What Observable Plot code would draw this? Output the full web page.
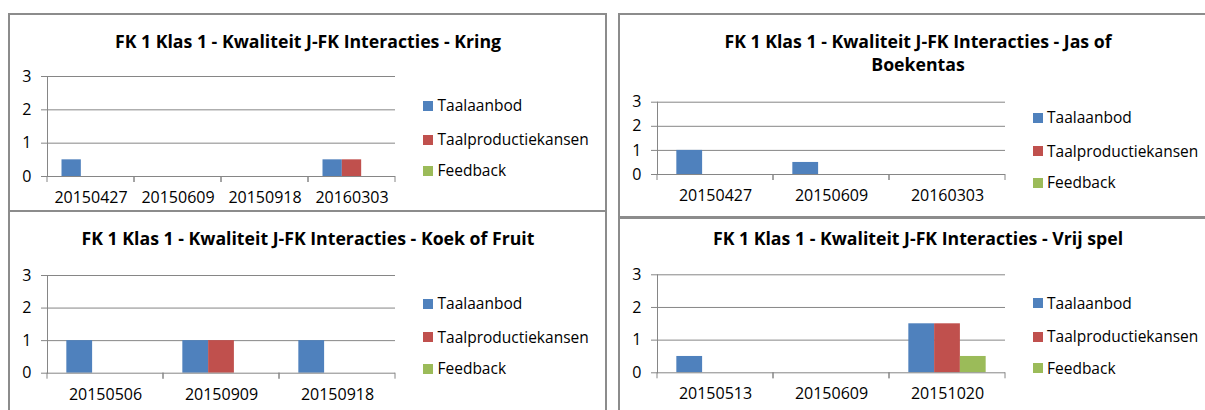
<!DOCTYPE html>
<html>
<head>
<meta charset="utf-8">
<script src="https://cdn.jsdelivr.net/npm/d3@7"></script>
<script src="https://cdn.jsdelivr.net/npm/@observablehq/plot@0.6"></script>
<style>
  body { margin: 0; background: #fff; }
  #page { position: relative; width: 1205px; height: 410px; overflow: hidden; font-family: "Open Sans", sans-serif; color: #000; }
  .box { position: absolute; border: 2px solid #8c8c8c; box-sizing: border-box; }
  .title { position: absolute; text-align: center; font-weight: 700; white-space: nowrap; color: #000; }
  .leg-sq { position: absolute; width: 10px; height: 10px; }
  .leg-tx { position: absolute; white-space: nowrap; color: #000; }
  .chartwrap { position: absolute; left: 0; top: 0; width: 1205px; height: 410px; }
  .chartwrap svg text { fill: #000; }
</style>
</head>
<body>
<div id="page"></div>
<script>
// ---------- data ----------
const series = ["Taalaanbod", "Taalproductiekansen", "Feedback"];
const colors = ["#4F81BD", "#C0504D", "#9BBB59"];
const yTicks = [0, 1, 2, 3];

const titleKring = ["FK 1 Klas 1 - Kwaliteit J-FK Interacties - Kring"];
const datesKring = ["20150427", "20150609", "20150918", "20160303"];
const taalaanbodKring = [0.5, 0, 0, 0.5];
const taalproductieKring = [0, 0, 0, 0.5];
const feedbackKring = [0, 0, 0, 0];

const titleJas = ["FK 1 Klas 1 - Kwaliteit J-FK Interacties - Jas of", "Boekentas"];
const datesJas = ["20150427", "20150609", "20160303"];
const taalaanbodJas = [1, 0.5, 0];
const taalproductieJas = [0, 0, 0];
const feedbackJas = [0, 0, 0];

const titleKoek = ["FK 1 Klas 1 - Kwaliteit J-FK Interacties - Koek of Fruit"];
const datesKoek = ["20150506", "20150909", "20150918"];
const taalaanbodKoek = [1, 1, 1];
const taalproductieKoek = [0, 1, 0];
const feedbackKoek = [0, 0, 0];

const titleVrij = ["FK 1 Klas 1 - Kwaliteit J-FK Interacties - Vrij spel"];
const datesVrij = ["20150513", "20150609", "20151020"];
const taalaanbodVrij = [0.5, 0, 1.5];
const taalproductieVrij = [0, 0, 1.5];
const feedbackVrij = [0, 0, 0.5];

// ---------- layout ----------
const W = 1205, H = 410;
const GRID = "#868686";
const TITLE_SIZE = 17.7, TICK_SIZE = 16, LEG_SIZE = 15.5;
const panels = [
  {title: titleKring, dates: datesKring, values: [taalaanbodKring, taalproductieKring, feedbackKring],
   box: [8, 13, 599, 199], plot: {l: 47, r: 395, t: 76, b: 176}, titleCx: 308, titleBase: 48, legX: 423},
  {title: titleJas, dates: datesJas, values: [taalaanbodJas, taalproductieJas, feedbackJas],
   box: [618, 13, 600, 205], plot: {l: 656, r: 1005, t: 101.7, b: 174}, titleCx: 918, titleBase: 48, legX: 1032.5},
  {title: titleKoek, dates: datesKoek, values: [taalaanbodKoek, taalproductieKoek, feedbackKoek],
   box: [8, 210, 599, 210], plot: {l: 46.5, r: 395, t: 275, b: 372.7}, titleCx: 308, titleBase: 245, legX: 423},
  {title: titleVrij, dates: datesVrij, values: [taalaanbodVrij, taalproductieVrij, feedbackVrij],
   box: [618, 216.5, 600, 205], plot: {l: 656.5, r: 1005, t: 274.3, b: 372.3}, titleCx: 918, titleBase: 245, legX: 1032.5}
];

const page = document.getElementById("page");

function topForBaseline(baseline, size, lineH) {
  return baseline - (lineH - 1.362 * size) / 2 - 1.069 * size;
}

// category-boundary tick marks below the x axis (drawn per facet, at the facet's edges)
function boundaryTicks(index, scales, values, dimensions, context) {
  const g = d3.create("svg:g");
  const [x0, x1] = scales.x.range();
  const y0 = scales.y(0);
  for (const x of [x0, x1]) {
    g.append("line").attr("x1", x).attr("x2", x).attr("y1", y0).attr("y2", y0 + 6)
      .attr("stroke", GRID);
  }
  return g.node();
}

for (const p of panels) {
  const box = document.createElement("div");
  box.className = "box";
  Object.assign(box.style, {left: p.box[0] + "px", top: p.box[1] + "px", width: p.box[2] + "px", height: p.box[3] + "px"});
  page.appendChild(box);

  const rows = [];
  p.dates.forEach((d, i) => series.forEach((s, j) => rows.push({date: d, series: s, value: p.values[j][i]})));

  const chart = Plot.plot({
    width: W, height: H,
    marginLeft: p.plot.l, marginRight: W - p.plot.r, marginTop: p.plot.t, marginBottom: H - p.plot.b,
    style: {background: "transparent", overflow: "visible", maxWidth: "none", fontFamily: '"Open Sans", sans-serif', fontSize: TICK_SIZE + "px", color: GRID},
    fx: {domain: p.dates, paddingInner: 0, paddingOuter: 0, axis: "bottom", tickSize: 0, tickPadding: 15, label: null},
    x: {domain: series, paddingInner: 0, paddingOuter: 0.75, axis: null, round: false},
    y: {domain: [0, 3], ticks: yTicks, tickSize: 6, tickPadding: 10, line: true, label: null, tickFormat: d => String(d)},
    color: {domain: series, range: colors},
    marks: [
      Plot.ruleY(yTicks.slice(1), {stroke: GRID}),
      Plot.barY(rows, {fx: "date", x: "series", y: "value", fill: "series"}),
      Plot.ruleY([0], {stroke: GRID}),
      boundaryTicks
    ]
  });
  const wrap = document.createElement("div");
  wrap.className = "chartwrap";
  wrap.appendChild(chart);
  page.appendChild(wrap);

  const lineH = 23;
  p.title.forEach((t, k) => {
    const el = document.createElement("div");
    el.className = "title";
    el.textContent = t;
    Object.assign(el.style, {fontSize: TITLE_SIZE + "px", lineHeight: lineH + "px",
      left: (p.titleCx - 300) + "px", width: "600px",
      top: topForBaseline(p.titleBase + k * lineH, TITLE_SIZE, lineH) + "px"});
    page.appendChild(el);
  });

  const mid = (p.plot.t + p.plot.b) / 2;
  const rowOffsets = [-20, 13.5, 45];
  series.forEach((s, j) => {
    const cy = mid + rowOffsets[j];
    const sq = document.createElement("div");
    sq.className = "leg-sq";
    Object.assign(sq.style, {left: p.legX + "px", top: (cy - 5) + "px", background: colors[j]});
    page.appendChild(sq);
    const tx = document.createElement("div");
    tx.className = "leg-tx";
    tx.textContent = s;
    Object.assign(tx.style, {left: (p.legX + 14.5) + "px", fontSize: LEG_SIZE + "px", lineHeight: "20px",
      top: topForBaseline(cy + 5.5, LEG_SIZE, 20) + "px"});
    page.appendChild(tx);
  });
}
</script>
</body>
</html>
